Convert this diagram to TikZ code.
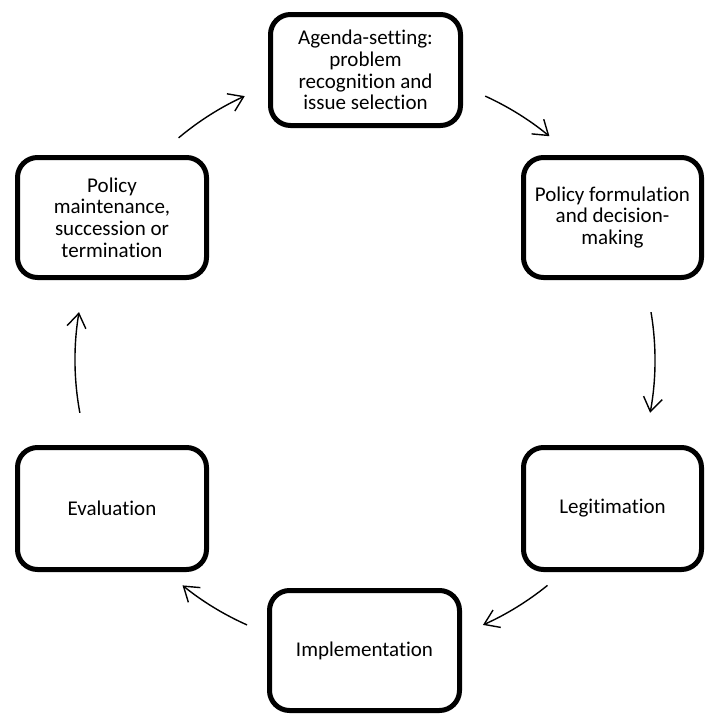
\documentclass[tikz,border=0pt]{standalone}
\usepackage{fontspec}
\setmainfont{Carlito}[Ligatures={NoCommon}]
\usetikzlibrary{arrows.meta,calc}
\begin{document}
\begin{tikzpicture}[x=1pt,y=-1pt,
  stage/.style={draw=black, line width=5pt, rounded corners=20pt, fill=white,
    align=center, inner sep=0pt, font=\fontsize{21}{21.7}\selectfont},
  cyc/.style={line width=1.4pt, -{Straight Barb[length=14pt,width=19pt,line width=1.4pt]}}]
\useasboundingbox (0,0) rectangle (705,715);
\coordinate (O) at (365,360);
\node[stage, minimum width=190pt, minimum height=111pt] (agenda) at (365.5,70)
  {Agenda-setting:\\problem\\recognition and\\issue selection};
\node[stage, minimum width=178pt, minimum height=120pt] (form) at (612.5,217.5)
  {Policy formulation\\and decision-\\making};
\node[stage, minimum width=178pt, minimum height=122pt] (legit) at (612.5,508.5)
  {Legitimation};
\node[stage, minimum width=190pt, minimum height=120pt] (impl) at (364.5,650.5)
  {Implementation};
\node[stage, minimum width=189pt, minimum height=122pt] (eval) at (112,508.5)
  {Evaluation};
\node[stage, minimum width=189pt, minimum height=120pt] (maint) at (112,217.5)
  {Policy\\maintenance,\\succession or\\termination};
\coordinate (s1) at ($(O)+(-130:290)$);
\coordinate (s2) at ($(O)+(-65.5:290)$);
\coordinate (s3) at ($(O)+(-9.5:290)$);
\coordinate (s4) at ($(O)+(51:290)$);
\coordinate (s5) at ($(O)+(114:290)$);
\coordinate (s6) at ($(O)+(169.5:290)$);
\draw[cyc] (s1) arc[start angle=-130, end angle=-114.5, radius=290];
\draw[cyc] (s2) arc[start angle=-65.5, end angle=-50.5, radius=290];
\draw[cyc] (s3) arc[start angle=-9.5, end angle=10.5, radius=290];
\draw[cyc] (s4) arc[start angle=51, end angle=66, radius=290];
\draw[cyc] (s5) arc[start angle=114, end angle=129, radius=290];
\draw[cyc] (s6) arc[start angle=169.5, end angle=189.5, radius=290];
\end{tikzpicture}
\end{document}
